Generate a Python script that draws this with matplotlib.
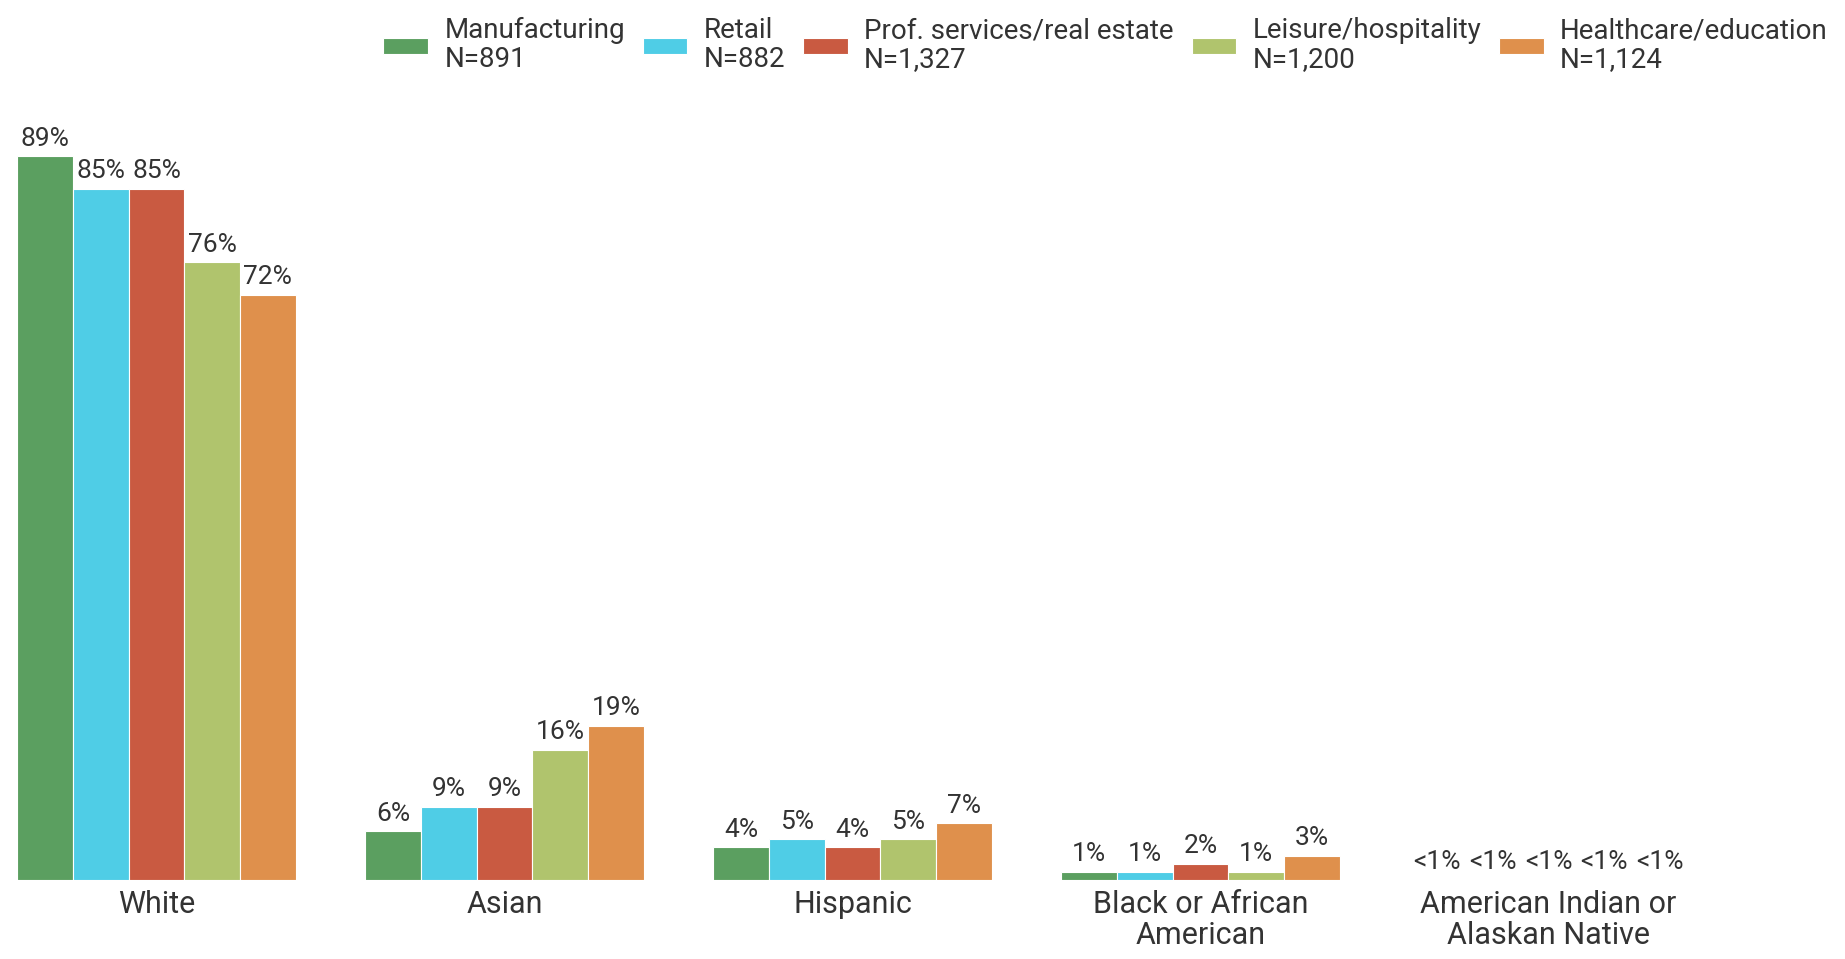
import matplotlib.pyplot as plt
import numpy as np

plt.rcParams['font.family'] = ['Roboto', 'DejaVu Sans']

# data
categories = ["White", "Asian", "Hispanic", "Black or African\nAmerican",
              "American Indian or\nAlaskan Native"]
industries = ["Manufacturing\nN=891", "Retail\nN=882", "Prof. services/real estate\nN=1,327",
              "Leisure/hospitality\nN=1,200", "Healthcare/education\nN=1,124"]
manufacturing = [89, 6, 4, 1, 0]
retail = [85, 9, 5, 1, 0]
prof_services = [85, 9, 4, 2, 0]
leisure = [76, 16, 5, 1, 0]
healthcare = [72, 19, 7, 3, 0]
last_label = "<1%"

series = [manufacturing, retail, prof_services, leisure, healthcare]
colors = ["#5b9f60", "#4fcde6", "#c95a41", "#b0c46d", "#df904c"]
text_color = "#333333"

fig = plt.figure(figsize=(18.45, 9.59), dpi=100)
ax = fig.add_axes([0.0, 1 - 880 / 959, 1.0, 813 / 959])

x = np.arange(len(categories))
w = 0.16
for j, vals in enumerate(series):
    pos = x + (j - 2) * w
    bars = ax.bar(pos, vals, width=w, color=colors[j], edgecolor="white",
                  linewidth=0.8, label=industries[j])
    for k, b in enumerate(bars):
        lab = f"{vals[k]}%" if vals[k] >= 1 else last_label
        ax.annotate(lab, (b.get_x() + b.get_width() / 2, b.get_height()),
                    xytext=(0, 4), textcoords="offset points",
                    ha="center", va="bottom", fontsize=19, color=text_color)

ax.set_xlim(-156.5 / 348, (1845 - 156.5) / 348)
ax.set_ylim(0, 100)
ax.set_xticks(x)
ax.set_xticklabels(categories, fontsize=22, color=text_color, linespacing=1.1)
ax.tick_params(axis="x", length=0, pad=7)
ax.set_yticks([])
for s in ax.spines.values():
    s.set_visible(False)

leg = fig.legend(loc="upper right", bbox_to_anchor=(1828 / 1845, 1 - 17 / 959),
                 ncol=5, frameon=False, fontsize=20, handlelength=1.6,
                 handleheight=0.5, handletextpad=0.6, columnspacing=0.64,
                 borderaxespad=0, borderpad=0)
for t in leg.get_texts():
    t.set_color(text_color)
    t.set_linespacing(1.1)

fig.savefig("out.png", dpi=100)
